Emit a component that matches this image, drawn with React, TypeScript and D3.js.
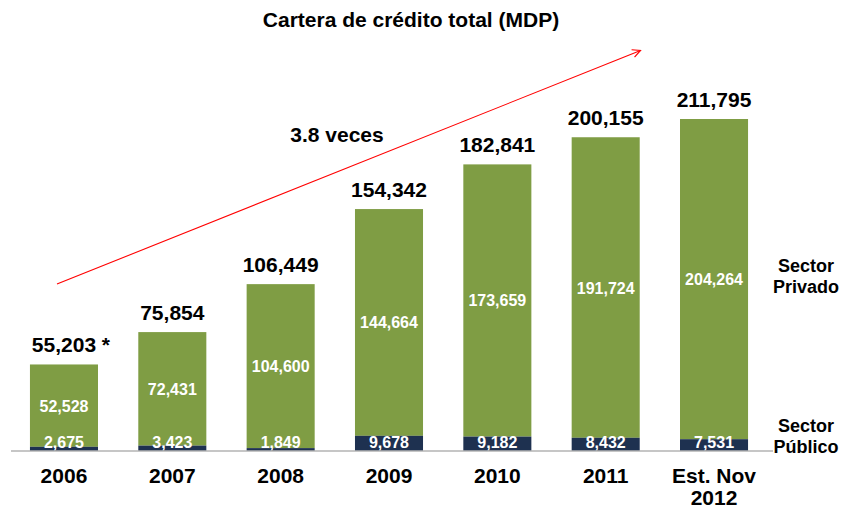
import React from "react";
import * as d3 from "d3";

const categories = ["2006", "2007", "2008", "2009", "2010", "2011", "Est. Nov\n2012"];
const publico = [2675, 3423, 1849, 9678, 9182, 8432, 7531];
const privado = [52528, 72431, 104600, 144664, 173659, 191724, 204264];
const totals = [55203, 75854, 106449, 154342, 182841, 200155, 211795];
const totalSuffix = [" *", "", "", "", "", "", ""];
const title = "Cartera de crédito total (MDP)";
const growthLabel = "3.8 veces";

const W = 849;
const H = 509;
const FONT = "'Liberation Sans', Arial, Helvetica, sans-serif";
const GREEN = "#7f9d44";
const NAVY = "#1e3150";

export default function App() {
  const x = d3
    .scaleBand<string>()
    .domain(categories)
    .range([9.8, 768.2])
    .paddingInner(0.372)
    .paddingOuter(0.186);
  const y = d3.scaleLinear().domain([0, 211795]).range([451, 119]);
  const fmt = d3.format(",");
  const bw = x.bandwidth();

  return (
    <svg
      width={W}
      height={H}
      style={{ position: "absolute", left: 0, top: 0, background: "#fff" }}
      fontFamily={FONT}
    >
      <defs>
        <marker
          id="arrow"
          viewBox="0 0 10 10"
          refX="9"
          refY="5"
          markerWidth="10"
          markerHeight="10"
          markerUnits="userSpaceOnUse"
          orient="auto"
        >
          <path d="M1,1 L9,5 L1,9" fill="none" stroke="#ff0000" strokeWidth={1.2} />
        </marker>
      </defs>
      <text x={411} y={27} textAnchor="middle" fontSize={21} fontWeight="bold" fill="#000">
        {title}
      </text>

      {categories.map((c, i) => {
        const x0 = x(c)!;
        const cx = x0 + bw / 2;
        const yPub = y(publico[i]);
        const yTot = y(publico[i] + privado[i]);
        const lines = c.split("\n");
        return (
          <g key={c}>
            <rect x={x0} y={yTot} width={bw} height={yPub - yTot} fill={GREEN} />
            <rect x={x0} y={yPub} width={bw} height={y(0) - yPub} fill={NAVY} />
            <text
              x={cx}
              y={(yTot + yPub) / 2 + 6}
              textAnchor="middle"
              fontSize={16}
              fontWeight="bold"
              fill="#fff"
            >
              {fmt(privado[i])}
            </text>
            <text x={cx} y={448} textAnchor="middle" fontSize={16} fontWeight="bold" fill="#fff">
              {fmt(publico[i])}
            </text>
            <text x={cx} y={yTot - 12} textAnchor="middle" fontSize={21} fontWeight="bold" fill="#000">
              {fmt(totals[i])}
            </text>
            {totalSuffix[i] && (
              <text x={cx + 32} y={yTot - 12} textAnchor="start" fontSize={21} fontWeight="bold" fill="#000" xmlSpace="preserve">
                {totalSuffix[i]}
              </text>
            )}
            {lines.map((l, k) => (
              <text key={k} x={cx} y={483 + k * 22} textAnchor="middle" fontSize={21} fontWeight="bold" fill="#000">
                {l}
              </text>
            ))}
          </g>
        );
      })}

      <line x1={11} x2={773} y1={451} y2={451} stroke="#b3b3b3" strokeWidth={1.5} />

      <line x1={57} y1={284} x2={640.5} y2={50.5} stroke="#ff0000" strokeWidth={1.1} markerEnd="url(#arrow)" />
      <text x={337} y={142} textAnchor="middle" fontSize={21} fontWeight="bold" fill="#000">
        {growthLabel}
      </text>

      <text x={806} y={272} textAnchor="middle" fontSize={18} fontWeight="bold" fill="#000">
        <tspan x={806}>Sector</tspan>
        <tspan x={806} dy={21}>Privado</tspan>
      </text>
      <text x={806} y={432} textAnchor="middle" fontSize={18} fontWeight="bold" fill="#000">
        <tspan x={806}>Sector</tspan>
        <tspan x={806} dy={21}>Público</tspan>
      </text>
    </svg>
  );
}
